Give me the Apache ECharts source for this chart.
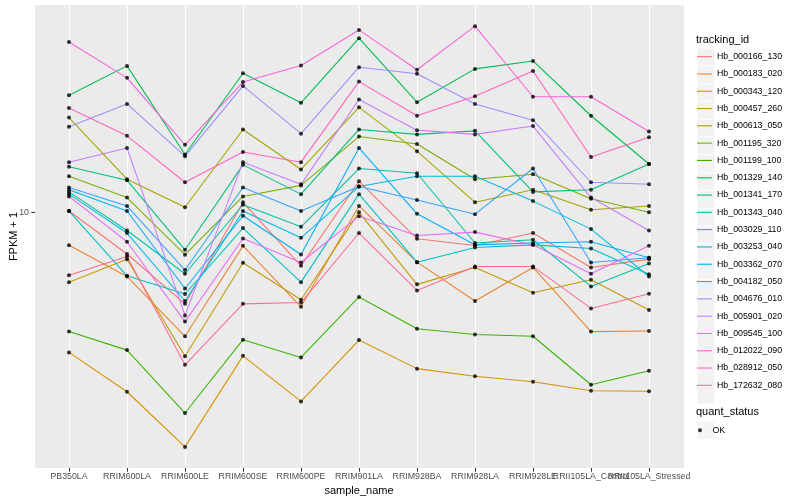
<!DOCTYPE html>
<html>
<head>
<meta charset="utf-8">
<script src="https://cdn.jsdelivr.net/npm/echarts@6.0.0/dist/echarts.min.js"></script>
<style>
html,body{margin:0;padding:0;background:#ffffff;}
#chart{width:800px;height:500px;}
</style>
</head>
<body>
<div id="chart"></div>
<script>
// ---- data (FPKM + 1) ----
const samples = ["PB350LA","RRIM600LA","RRIM600LE","RRIM600SE","RRIM600PE","RRIM901LA","RRIM928BA","RRIM928LA","RRIM928LE","RRII105LA_Control","RRII105LA_Stressed"];

const trackingIds = ["Hb_000166_130","Hb_000183_020","Hb_000343_120","Hb_000457_260","Hb_000613_050","Hb_001195_320","Hb_001199_100","Hb_001329_140","Hb_001341_170","Hb_001343_040","Hb_003029_110","Hb_003253_040","Hb_003362_070","Hb_004182_050","Hb_004676_010","Hb_005901_020","Hb_009545_100","Hb_012022_090","Hb_028912_050","Hb_172632_080"];

const trackingColors = ["#F8766D","#EA8331","#D89000","#C09B00","#A3A500","#7CAE00","#39B600","#00BB4E","#00BF7D","#00C1A3","#00BFC4","#00BAE0","#00B0F6","#35A2FF","#9590FF","#C77CFF","#E76BF3","#FA62DB","#FF62BC","#FF6C91"];

const Hb_000166_130 = [10.1, 7.26, 4.95, 10.8, 6.63, 12.7, 8.16, 7.75, 8.53, 6.55, 6.98];
const Hb_000183_020 = [7.77, 6.11, 3.86, 7.73, 4.84, 10.5, 6.82, 5.06, 6.55, 4.00, 4.02];
const Hb_000343_120 = [3.41, 2.52, 1.65, 3.32, 2.34, 3.75, 3.01, 2.84, 2.72, 2.54, 2.53];
const Hb_000457_260 = [5.85, 6.98, 3.31, 6.79, 5.11, 10.0, 5.75, 6.55, 5.39, 5.96, 4.72];
const Hb_000613_050 = [20.7, 12.9, 10.4, 18.9, 13.9, 22.4, 16.0, 10.8, 11.9, 10.2, 10.5];
const Hb_001195_320 = [13.2, 11.2, 7.22, 11.3, 12.3, 17.9, 16.9, 12.9, 13.4, 11.1, 10.0];
const Hb_001199_100 = [4.00, 3.47, 2.14, 3.76, 3.28, 5.22, 4.09, 3.91, 3.86, 2.66, 2.96];
const Hb_001329_140 = [24.6, 30.8, 15.6, 29.1, 23.2, 38.1, 23.3, 30.1, 32.0, 21.0, 14.5];
const Hb_001341_170 = [14.2, 12.8, 7.50, 14.4, 11.5, 18.9, 18.2, 18.7, 11.7, 11.9, 14.5];
const Hb_001343_040 = [11.7, 8.70, 6.24, 10.6, 8.95, 14.0, 13.5, 7.90, 8.10, 5.66, 6.75];
const Hb_003029_110 = [10.1, 6.14, 5.34, 8.86, 5.85, 11.5, 6.82, 7.63, 7.79, 7.57, 6.22];
const Hb_003253_040 = [11.5, 8.53, 5.06, 10.1, 8.22, 12.2, 13.2, 13.2, 10.9, 8.79, 6.11];
const Hb_003362_070 = [11.9, 10.1, 5.57, 9.74, 7.23, 16.4, 9.89, 7.79, 7.90, 7.98, 7.05];
const Hb_004182_050 = [12.1, 10.5, 6.42, 12.1, 10.1, 12.2, 11.0, 9.86, 14.0, 6.80, 7.05];
const Hb_004676_010 = [19.3, 23.0, 15.4, 26.4, 18.3, 30.5, 29.0, 23.0, 20.3, 12.6, 12.4];
const Hb_005901_020 = [14.7, 16.4, 4.53, 14.7, 12.4, 23.8, 18.8, 18.2, 19.4, 11.2, 8.70];
const Hb_009545_100 = [11.3, 7.98, 4.32, 8.18, 6.80, 9.71, 8.37, 8.59, 7.79, 6.24, 7.73];
const Hb_012022_090 = [37.0, 28.1, 16.8, 27.2, 30.9, 40.6, 29.9, 41.8, 24.3, 24.3, 18.6];
const Hb_028912_050 = [22.3, 18.0, 12.6, 15.9, 14.7, 27.3, 21.0, 24.4, 29.6, 15.3, 17.8];
const Hb_172632_080 = [6.17, 7.12, 3.10, 4.95, 5.00, 8.53, 5.49, 6.60, 6.60, 4.78, 5.35];

const yTickValues = [10];
const yRange = [1.403, 49.17];
const quantStatus = ["OK"];

const seriesValues = [Hb_000166_130, Hb_000183_020, Hb_000343_120, Hb_000457_260, Hb_000613_050, Hb_001195_320, Hb_001199_100, Hb_001329_140, Hb_001341_170, Hb_001343_040, Hb_003029_110, Hb_003253_040, Hb_003362_070, Hb_004182_050, Hb_004676_010, Hb_005901_020, Hb_009545_100, Hb_012022_090, Hb_028912_050, Hb_172632_080];

// ---- chart ----
const FONT = "'Liberation Sans', Arial, Helvetica, sans-serif";
const chart = echarts.init(document.getElementById('chart'), null, {renderer: 'canvas'});

const lineSeries = trackingIds.map((id, i) => ({
  name: id,
  type: 'line',
  xAxisIndex: 1,
  yAxisIndex: 1,
  data: seriesValues[i],
  symbol: 'none',
  showSymbol: false,
  silent: true,
  lineStyle: {color: trackingColors[i], width: 1.07},
  itemStyle: {color: trackingColors[i]},
  z: 2
}));

const points = [];
seriesValues.forEach(arr => arr.forEach((v, j) => points.push([samples[j], v])));

const pointSeries = {
  name: quantStatus[0],
  type: 'scatter',
  xAxisIndex: 1,
  yAxisIndex: 1,
  data: points,
  symbol: 'circle',
  symbolSize: 4,
  silent: true,
  itemStyle: {color: '#000000'},
  z: 3
};

const option = {
  backgroundColor: '#ffffff',
  animation: false,
  title: [
    {text: 'tracking_id', left: 696, top: 34, padding: 0,
     textStyle: {fontSize: 11, fontWeight: 'normal', color: '#000000', fontFamily: FONT}},
    {text: 'quant_status', left: 696, top: 406, padding: 0,
     textStyle: {fontSize: 11, fontWeight: 'normal', color: '#000000', fontFamily: FONT}}
  ],
  grid: [
    {left: 35, right: 116, top: 5, bottom: 32, show: true, backgroundColor: '#EBEBEB', borderWidth: 0,
     containLabel: false, outerBoundsMode: 'none'},
    {left: 69, right: 151, top: 5, bottom: 32, show: false, containLabel: false, outerBoundsMode: 'none'}
  ],
  xAxis: [
    {gridIndex: 0, type: 'value', show: false, min: 0, max: 1},
    {gridIndex: 1, type: 'category', data: samples, boundaryGap: false,
     axisLine: {show: false},
     axisTick: {show: true, interval: 0, length: 3.7, lineStyle: {color: '#333333', width: 1.07}},
     axisLabel: {interval: 0, margin: 4, fontSize: 8.8, color: '#4D4D4D', fontFamily: FONT},
     splitLine: {show: true, interval: 0, lineStyle: {color: '#FFFFFF', width: 1.07}},
     name: 'sample_name', nameLocation: 'middle', nameGap: 11,
     nameTextStyle: {fontSize: 11, color: '#000000', fontFamily: FONT}}
  ],
  yAxis: [
    {gridIndex: 0, type: 'log', logBase: 10, min: yRange[0], max: yRange[1],
     axisLine: {show: false},
     axisTick: {show: true, length: 3.7, lineStyle: {color: '#333333', width: 1.07}, customValues: yTickValues},
     axisLabel: {show: true, margin: 6, fontSize: 8.8, color: '#4D4D4D', fontFamily: FONT,
                 customValues: yTickValues, showMinLabel: false, showMaxLabel: false},
     splitLine: {show: true, showMinLine: false, showMaxLine: false, lineStyle: {color: '#FFFFFF', width: 1.07}},
     name: 'FPKM + 1', nameLocation: 'middle', nameGap: 16, nameRotate: 90, nameMoveOverlap: false,
     nameTextStyle: {fontSize: 11, color: '#000000', fontFamily: FONT}},
    {gridIndex: 1, type: 'log', logBase: 10, min: yRange[0], max: yRange[1], show: false}
  ],
  legend: [
    {id: 'keyBoxes', orient: 'vertical', left: 697, top: 48, padding: 0, itemGap: 0,
     itemWidth: 17.3, itemHeight: 17.3, icon: 'rect', selectedMode: false,
     data: trackingIds.map(n => ({name: n, itemStyle: {color: '#F2F2F2', borderColor: '#FFFFFF', borderWidth: 0.5}})),
     formatter: () => '', textStyle: {fontSize: 9, lineHeight: 17.3}, z: 4},
    {id: 'keyLines', orient: 'vertical', left: 697, top: 48, padding: 0, itemGap: 0,
     itemWidth: 15, itemHeight: 1.1, icon: 'rect', selectedMode: false,
     data: trackingIds.map((n, i) => ({name: n, itemStyle: {color: trackingColors[i], borderWidth: 0}})),
     textStyle: {fontSize: 8.8, lineHeight: 17.3, color: '#000000', fontFamily: FONT}, z: 5},
    {id: 'okBox', orient: 'vertical', left: 697, top: 421.5, padding: 0, itemGap: 0,
     itemWidth: 17.3, itemHeight: 17.3, icon: 'rect', selectedMode: false,
     data: quantStatus.map(n => ({name: n, itemStyle: {color: '#F2F2F2', borderColor: '#FFFFFF', borderWidth: 0.5}})),
     formatter: () => '', textStyle: {fontSize: 9, lineHeight: 17.3}, z: 4},
    {id: 'okKey', orient: 'vertical', left: 698, top: 421.5, padding: 0, itemGap: 0,
     itemWidth: 15, itemHeight: 4, icon: 'circle', selectedMode: false,
     data: quantStatus.map(n => ({name: n, itemStyle: {color: '#000000', borderWidth: 0}})),
     textStyle: {fontSize: 8.8, lineHeight: 17.3, color: '#000000', fontFamily: FONT}, z: 5}
  ],
  series: lineSeries.concat([pointSeries])
};

chart.setOption(option);
</script>
</body>
</html>
